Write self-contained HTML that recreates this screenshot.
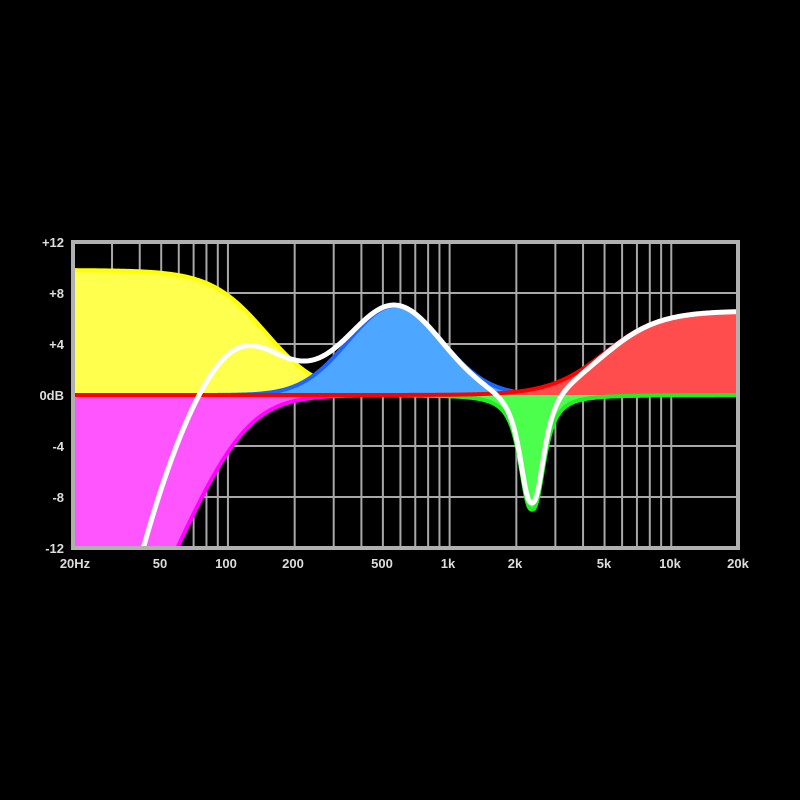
<!DOCTYPE html>
<html><head><meta charset="utf-8"><style>
html,body{margin:0;padding:0;background:#000;width:800px;height:800px;overflow:hidden}
svg{display:block}
text{font-family:"Liberation Sans",sans-serif;font-weight:bold;font-size:13px;fill:#ddd}
</style></head><body>
<svg id="s" width="800" height="800" xmlns="http://www.w3.org/2000/svg">
<rect width="800" height="800" fill="#000"/>
<g id="grid"></g>
<g id="bands"></g>
<rect x="73" y="242" width="665" height="306" fill="none" stroke="#b0b0b0" stroke-width="4"/>
<g text-anchor="end">
<text x="64" y="247">+12</text><text x="64" y="298">+8</text><text x="64" y="349">+4</text>
<text x="64" y="400">0dB</text><text x="64" y="451">-4</text><text x="64" y="502">-8</text><text x="64" y="553">-12</text>
</g>
<g text-anchor="middle">
<text x="75" y="568">20Hz</text><text x="160" y="568">50</text><text x="226" y="568">100</text>
<text x="293" y="568">200</text><text x="382" y="568">500</text><text x="448" y="568">1k</text>
<text x="515" y="568">2k</text><text x="604" y="568">5k</text><text x="670" y="568">10k</text><text x="738" y="568">20k</text>
</g>
</svg>
<script>
var X0=73,X1=738,PD=(X1-X0)/3,Y0=395,PDB=12.75;
function fx(f){return X0+Math.log10(f/20)*PD;}
function yd(d){return Y0-d*PDB;}
var NS="http://www.w3.org/2000/svg";
function el(p,t,a){var e=document.createElementNS(NS,t);for(var k in a)e.setAttribute(k,a[k]);p.appendChild(e);return e;}
var g=document.getElementById('grid');
var fs=[];for(var d=10;d<=10000;d*=10)for(var m=1;m<10;m++){var f=d*m;if(f>=20&&f<=20000)fs.push(f);}fs.push(20000);
fs.forEach(function(f){var x=fx(f);el(g,'line',{x1:x,x2:x,y1:242,y2:548,stroke:'#a8a8a8','stroke-width':2});});
for(var db=-8;db<=8;db+=4){var y=yd(db);el(g,'line',{x1:73,x2:738,y1:y,y2:y,stroke:'#a8a8a8','stroke-width':2});}
function yel(f){return 9.8/(1+Math.pow(f/148,3.5));}
function mag(f){return -10*Math.log10(1+Math.pow(116/f,4));}
function blu(f){var x=Math.log2(f/567);return 7*Math.exp(-x*x/(2*0.7*0.7));}
function grn(f){var x=Math.abs(Math.log2(f/2354));return -9/(1+Math.pow(x/0.21,2.5));}
function red(f){var r=Math.pow(f/5000,3.5);return 6.6*r/(1+r);}
function tot(f){return yel(f)+mag(f)+blu(f)+grn(f)+red(f)-10*Math.log10(1+Math.pow(45/f,4));}
function clamp(y){return Math.max(240,Math.min(552,y));}
function path(fn,fa,fb,fill){var s='',N=600;for(var i=0;i<=N;i++){var f=fa*Math.pow(fb/fa,i/N);s+=(i?'L':'M')+fx(f).toFixed(2)+','+clamp(yd(fn(f))).toFixed(2);}
if(fill)s+='L'+fx(fb).toFixed(2)+','+Y0+'L'+fx(fa).toFixed(2)+','+Y0+'Z';return s;}
var b=document.getElementById('bands');
var defs=el(b,'clipPath',{id:'c'});el(defs,'rect',{x:75,y:244,width:661,height:302});
var cg=el(b,'g',{'clip-path':'url(#c)'});
var bands=[[mag,'#ff55ff','#ff00ff'],[yel,'#ffff4d','#ffff00'],[blu,'#4da6ff','#1a66ff'],[grn,'#4dff4d','#22ee22'],[red,'#ff4d4d','#ff0000']];
bands.forEach(function(q){el(cg,'path',{d:path(q[0],20,20000,true),fill:q[1]});el(cg,'path',{d:path(q[0],20,20000,false),fill:'none',stroke:q[2],'stroke-width':4});});
el(cg,'path',{d:path(grn,3300,20000,false),fill:'none',stroke:'#22ee22','stroke-width':4});
el(cg,'path',{d:path(tot,20,20000,false),fill:'none',stroke:'#fff','stroke-width':5,'stroke-linejoin':'round'});
</script>
</body></html>
